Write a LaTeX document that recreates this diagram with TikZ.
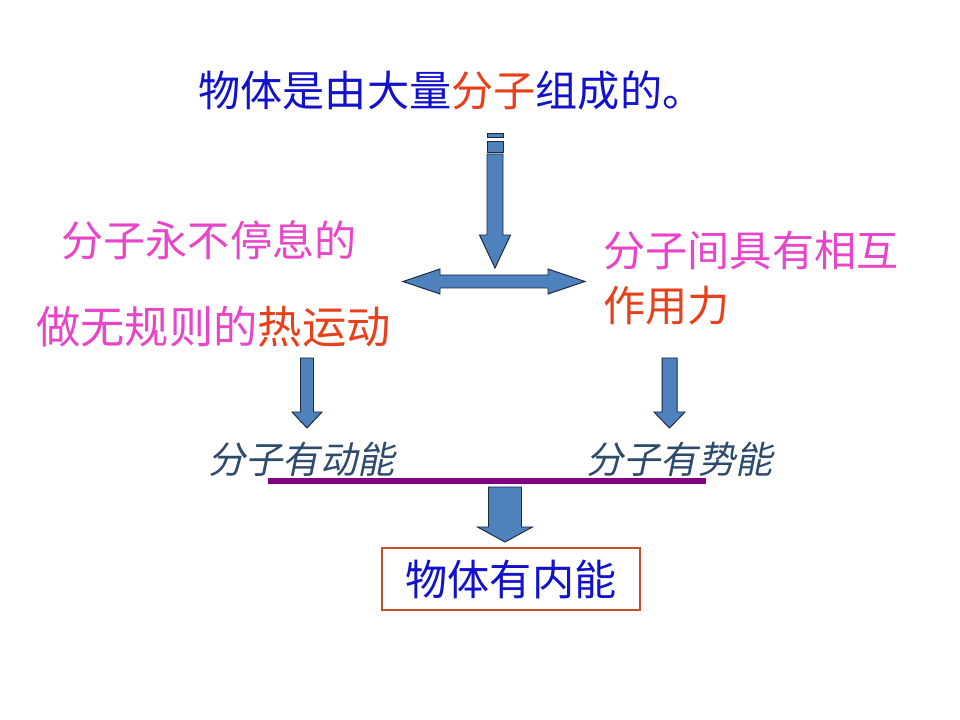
\documentclass[tikz,border=0pt]{standalone}
\usepackage{fontspec}
\newfontfamily\cjk{Noto Sans CJK SC}
\newfontfamily\cjkit[FakeSlant=0.2]{Noto Sans CJK SC}
\definecolor{txtblue}{HTML}{1212CC}
\definecolor{txtpink}{HTML}{E845C8}
\definecolor{txtred}{HTML}{E8401A}
\definecolor{txtslate}{HTML}{2E4A6C}
\definecolor{arrowblue}{HTML}{4F81BD}
\definecolor{arrowedge}{HTML}{1C2A40}
\definecolor{barpurple}{HTML}{800080}
\definecolor{boxedge}{HTML}{C0502A}
\tikzset{
  blockarrow/.style={fill=arrowblue,draw=arrowedge,line width=0.7pt,line join=miter},
  bigtext/.style={font=\cjk\fontsize{30}{36}\selectfont,inner sep=0pt,anchor=west},
  energytext/.style={font=\cjkit\fontsize{26.5}{32}\selectfont,text=txtslate,inner sep=0pt,anchor=west}
}
% block arrow pointing down: x, top, head start, tip, shaft half, head half
\newcommand{\downblock}[6]{%
  \draw[blockarrow] (#1-#5,#2) -- (#1+#5,#2) -- (#1+#5,#3) -- (#1+#6,#3) -- (#1,#4)
    -- (#1-#6,#3) -- (#1-#5,#3) -- cycle;}
\begin{document}
\begin{tikzpicture}[x=0.025cm,y=-0.025cm]
  \useasboundingbox[fill=white] (0,0) rectangle (960,720);
  % top line
  \node[bigtext,text=txtblue] (top) at (198,91) {物体是由大量\textcolor{txtred}{分子}组成的。};
  % arrow from top, with its two dashes
  \draw[blockarrow] (487,133) rectangle (503,137);
  \draw[blockarrow] (487,141) rectangle (503,152);
  \downblock{495}{154}{235}{268}{8}{15.5}
  % double arrow
  \draw[blockarrow] (403,281.5) -- (440,269) -- (440,275) -- (548,275) -- (548,269)
    -- (585,281.5) -- (548,294) -- (548,288) -- (440,288) -- (440,294) -- cycle;
  % left and right texts
  \node[bigtext,text=txtpink] (lefta) at (61,240) {分子永不停息的};
  \node[bigtext,text=txtpink,font=\cjk\fontsize{31.5}{36}\selectfont] (leftb) at (36,327)
    {做无规则的\textcolor{txtred}{热运动}};
  \node[bigtext,text=txtpink] (righta) at (603,251) {分子间具有相互};
  \node[bigtext,text=txtred] (rightb) at (603,306) {作用力};
  % small arrows
  \downblock{307}{358}{412}{428}{6.5}{15}
  \downblock{669.5}{358}{412}{428}{7.5}{15.5}
  % energies
  \node[energytext] (kinetic) at (208,459) {分子有动能};
  \node[energytext] (potential) at (586,459) {分子有势能};
  \draw[barpurple,line width=4.5pt] (268,481) -- (706,481);
  % bottom arrow and box
  \downblock{505}{487}{527}{542}{16.5}{27.5}
  \node[draw=boxedge,line width=0.8pt,text=txtblue,font=\cjk\fontsize{30}{36}\selectfont,
    minimum width=6.45cm,minimum height=1.55cm,inner sep=0pt]
    (total) at (511,579) {物体有内能};
\end{tikzpicture}
\end{document}
